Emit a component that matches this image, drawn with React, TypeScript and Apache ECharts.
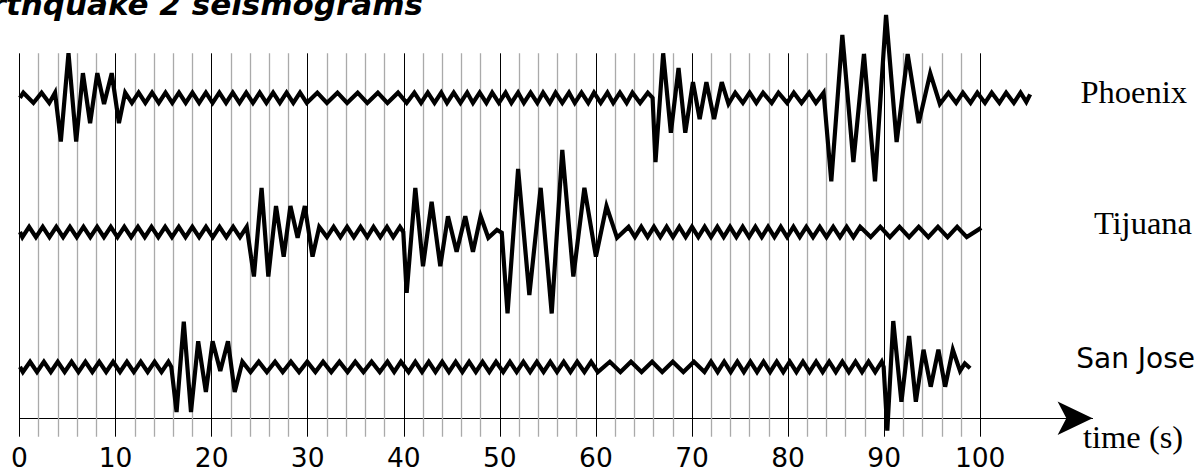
import React, { useEffect, useRef } from "react";
import * as echarts from "echarts";

const TITLE = "Earthquake 2 seismograms";
const AXIS_NAME = "time (s)";
const STATIONS = ["Phoenix", "Tijuana", "San Jose"];
const BASELINES = [46.8, 27.2, 7.5];
const TICK_LABELS = [0, 10, 20, 30, 40, 50, 60, 70, 80, 90, 100];
const GRID_TIMES = [
  0, 2, 4, 6, 8, 10, 12, 14, 16, 18, 20, 22, 24, 26, 28, 30, 32, 34, 36, 38, 40, 42, 44, 46, 48, 50,
  52, 54, 56, 58, 60, 62, 64, 66, 68, 70, 72, 74, 76, 78, 80, 82, 84, 86, 88, 90, 92, 94, 96, 98, 100,
];

const PHOENIX: [number, number][] = [
  [0.05, 0], [0.4, 0.75], [1.45, -0.75], [2.3, 0.75], [3.1, -0.75], [3.7, 0.75],
  [4.3, -6.4], [5.1, 6.5], [5.9, -6.4], [6.6, 3.6], [7.35, -3.7], [8.1, 3.6], [8.8, -0.9], [9.6, 3.6], [10.35, -3.7], [11.0, 0.75],
  [11.7, -0.75], [12.4, 0.75], [13.1, -0.75], [13.8, 0.75], [14.5, -0.75], [15.2, 0.75], [15.9, -0.75], [16.6, 0.75],
  [17.3, -0.75], [18.0, 0.75], [18.7, -0.75], [19.4, 0.75], [20.1, -0.75], [20.8, 0.75], [21.5, -0.75], [22.2, 0.75],
  [22.9, -0.75], [23.6, 0.75], [24.3, -0.75], [25.0, 0.75], [25.7, -0.75], [26.4, 0.75], [27.1, -0.75], [27.8, 0.75],
  [28.5, -0.75], [29.2, 0.75], [29.9, -0.75],
  [31.0, 0.75], [32.0, -0.75], [33.1, 0.75], [34.1, -0.75], [35.2, 0.75], [36.2, -0.75], [37.3, 0.75], [38.3, -0.75], [39.4, 0.75], [40.3, -0.75],
  [41.1, 0.75], [41.8, -0.75], [42.5, 0.75], [43.2, -0.75], [43.9, 0.75], [44.5, -0.75], [45.2, 0.75], [45.9, -0.75],
  [46.6, 0.75], [47.2, -0.75], [47.9, 0.75], [48.6, -0.75], [49.2, 0.75], [49.9, -0.75], [50.6, 0.75], [51.2, -0.75],
  [51.9, 0.75], [52.5, -0.75], [53.2, 0.75], [53.9, -0.75], [54.5, 0.75], [55.2, -0.75], [55.8, 0.75], [56.5, -0.75],
  [57.2, 0.75], [57.8, -0.75], [58.5, 0.75], [59.2, -0.75], [59.8, 0.75], [60.5, -0.75], [61.2, 0.75], [61.8, -0.75],
  [62.5, 0.75], [63.2, -0.75], [63.8, 0.75], [64.6, -0.75], [65.4, 0.75],
  [65.9, 0], [66.2, -9.4], [67.0, 6.5], [67.8, -5.1], [68.6, 4.35], [69.3, -5.1], [70.1, 2.3], [70.8, -3.1], [71.5, 2.3],
  [72.3, -3.1], [73.1, 2.3], [73.8, -0.9],
  [74.5, 0.75], [75.3, -0.75], [76.0, 0.75], [76.7, -0.75], [77.4, 0.75], [78.3, -0.75], [79.0, 0.75], [79.9, -0.75],
  [80.6, 0.75], [81.4, -0.75], [82.2, 0.75], [82.9, -0.75], [83.7, 0.75],
  [84.5, -12.2], [85.65, 9.2], [86.8, -9.4], [87.9, 6.4], [89.05, -12.2], [90.2, 12.1], [91.3, -6.45], [92.45, 6.4],
  [93.6, -3.7], [94.8, 3.6], [95.8, -0.9],
  [96.7, 0.75], [97.5, -0.75], [98.2, 0.75], [99.0, -0.75], [99.7, 0.75], [100.5, -0.75], [101.2, 0.75], [102.0, -0.75],
  [102.7, 0.75], [103.5, -0.75], [104.2, 0.75], [104.8, -0.6], [105.2, 0.5],
];

const TIJUANA: [number, number][] = [
  [0.05, 0], [0.3, -0.75], [1.0, 0.75], [1.71, -0.75], [2.42, 0.75], [3.12, -0.75], [3.83, 0.75], [4.54, -0.75],
  [5.25, 0.75], [5.96, -0.75], [6.66, 0.75], [7.37, -0.75], [8.08, 0.75], [8.79, -0.75], [9.5, 0.75], [10.2, -0.75],
  [10.91, 0.75], [11.62, -0.75], [12.33, 0.75], [13.04, -0.75], [13.74, 0.75], [14.45, -0.75], [15.16, 0.75], [15.87, -0.75],
  [16.58, 0.75], [17.28, -0.75], [17.99, 0.75], [18.7, -0.75], [19.41, 0.75], [20.12, -0.75], [20.82, 0.75], [21.53, -0.75],
  [22.24, 0.75], [22.95, -0.75], [23.65, 0.75],
  [24.4, -6.5], [25.2, 6.45], [25.9, -6.5], [26.7, 3.8], [27.5, -3.6], [28.2, 3.8], [28.95, -0.85], [29.7, 3.8], [30.5, -3.6], [31.2, 0.75],
  [32.0, -0.75], [32.7, 0.75], [33.4, -0.75], [34.1, 0.75], [34.8, -0.75], [35.5, 0.75], [36.2, -0.75], [36.85, 0.75],
  [37.55, -0.75], [38.25, 0.75], [38.9, -0.75], [39.6, 0.75],
  [39.95, 0], [40.3, -8.9], [41.2, 6.45], [42.0, -5], [42.9, 4.4], [43.8, -5], [44.6, 2.3], [45.5, -2.9], [46.4, 2.3],
  [47.2, -2.9], [48.0, 2.3], [48.8, -0.85], [49.7, 0.3], [50.2, -0.1],
  [50.8, -11.9], [51.9, 9.2], [53.07, -9.2], [54.25, 6.45], [55.4, -11.9], [56.5, 12.0], [57.65, -6.5], [58.8, 6.45],
  [60.0, -3.6], [61.1, 3.8], [62.2, -0.85],
  [63.4, 0.75], [64.06, -0.75], [64.72, 0.75], [65.38, -0.75], [66.04, 0.75], [66.7, -0.75], [67.36, 0.75], [68.02, -0.75],
  [68.68, 0.75], [69.34, -0.75], [70.0, 0.75], [70.66, -0.75], [71.32, 0.75], [71.98, -0.75], [72.64, 0.75], [73.3, -0.75],
  [73.96, 0.75], [74.62, -0.75], [75.28, 0.75], [75.94, -0.75], [76.6, 0.75], [77.26, -0.75], [77.92, 0.75], [78.58, -0.75],
  [79.24, 0.75], [79.9, -0.75], [80.56, 0.75], [81.22, -0.75], [81.9, 0.75], [82.6, -0.75], [83.3, 0.75], [84.0, -0.75],
  [84.7, 0.75], [85.4, -0.75], [86.1, 0.75], [86.8, -0.75], [87.5, 0.75],
  [88.6, -0.75], [89.6, 0.75], [90.6, -0.75], [91.6, 0.75], [92.6, -0.75], [93.6, 0.75], [94.6, -0.75], [95.6, 0.75],
  [96.6, -0.75], [97.6, 0.75], [98.6, -0.75], [100.1, 0.6],
];

const SAN_JOSE: [number, number][] = [
  [0.05, 0], [0.35, -0.75], [1.1, 0.75], [1.82, -0.75], [2.54, 0.75], [3.26, -0.75], [3.98, 0.75], [4.7, -0.75],
  [5.42, 0.75], [6.14, -0.75], [6.86, 0.75], [7.58, -0.75], [8.3, 0.75], [9.02, -0.75], [9.74, 0.75], [10.46, -0.75],
  [11.18, 0.75], [11.9, -0.75], [12.62, 0.75], [13.34, -0.75], [14.06, 0.75], [14.78, -0.75], [15.5, 0.75],
  [15.8, 0], [16.35, -6.6], [17.1, 6.6], [17.85, -6.6], [18.6, 3.75], [19.4, -3.65], [20.1, 3.75], [20.9, -0.6],
  [21.7, 3.75], [22.4, -3.65], [23.2, 0.75],
  [24.05, -0.75], [24.9, 0.75], [25.75, -0.75], [26.6, 0.75], [27.4, -0.75], [28.25, 0.75], [29.1, -0.75], [29.95, 0.75],
  [30.8, -0.75], [31.6, 0.75], [32.45, -0.75], [33.3, 0.75], [34.15, -0.75], [34.95, 0.75], [35.8, -0.75], [36.65, 0.75],
  [37.5, -0.75], [38.3, 0.75], [39.0, -0.75], [39.7, 0.75], [40.5, -0.75],
  [41.2, 0.75], [41.9, -0.75], [42.6, 0.75], [43.3, -0.75], [44.0, 0.75], [44.7, -0.75], [45.4, 0.75], [46.1, -0.75],
  [46.8, 0.75], [47.5, -0.75], [48.2, 0.75], [48.9, -0.75], [49.6, 0.75], [50.35, -0.75], [51.05, 0.75], [51.75, -0.75],
  [52.45, 0.75], [53.15, -0.75], [53.85, 0.75], [54.55, -0.75], [55.25, 0.75], [55.95, -0.75], [56.65, 0.75], [57.35, -0.75],
  [58.05, 0.75], [58.8, -0.75], [59.5, 0.75], [60.2, -0.75],
  [61.45, 0.75], [62.55, -0.75], [63.65, 0.75], [64.75, -0.75], [65.85, 0.75], [66.9, -0.75], [68.0, 0.75], [69.1, -0.75],
  [70.2, 0.75], [71.3, -0.75],
  [71.98, 0.75], [72.67, -0.75], [73.35, 0.75], [74.03, -0.75], [74.72, 0.75], [75.4, -0.75], [76.08, 0.75], [76.77, -0.75],
  [77.45, 0.75], [78.13, -0.75], [78.82, 0.75], [79.5, -0.75], [80.18, 0.75], [80.87, -0.75], [81.55, 0.75], [82.23, -0.75],
  [82.92, 0.75], [83.6, -0.75], [84.28, 0.75], [84.97, -0.75], [85.65, 0.75], [86.33, -0.75], [87.02, 0.75], [87.7, -0.75],
  [88.38, 0.75], [89.07, -0.75], [89.75, 0.75],
  [89.95, 0], [90.33, -9.3], [90.95, 6.7], [91.8, -5.1], [92.6, 4.5], [93.3, -5.1], [94.1, 2.5], [94.85, -2.9],
  [95.65, 2.5], [96.35, -2.9], [97.15, 2.5], [97.9, -0.6], [98.4, 0.5], [98.95, -0.2],
];

const TRACES = [PHOENIX, TIJUANA, SAN_JOSE];

export default function App() {
  const ref = useRef<HTMLDivElement>(null);

  useEffect(() => {
    if (!ref.current) return;
    const chart = echarts.init(ref.current, null, { renderer: "svg" });

    const traceSeries = TRACES.map((trace, i) => ({
      type: "line",
      name: STATIONS[i],
      data: trace.map(([t, v]) => [t, BASELINES[i] + v]),
      showSymbol: false,
      clip: false,
      z: 10,
      lineStyle: { color: "#000", width: 4.2, join: "miter", miterLimit: 4, cap: "butt" },
      silent: true,
    }));

    const gridSeries = {
      type: "line",
      data: [],
      silent: true,
      z: 1,
      markLine: {
        silent: true,
        z: 1,
        symbol: ["none", "none"],
        label: { show: false },
        data: GRID_TIMES.map((t) => ({
          xAxis: t,
          lineStyle: { color: t % 10 === 0 ? "#000" : "#aaaaaa", width: t % 10 === 0 ? 1 : 1.3, type: "solid" },
        })),
      },
    };

    const labelY = [92, 223, 358.6];
    const labelX = [1187, 1192, 1195];
    const labelFonts = ["Liberation Serif", "Liberation Serif", "DejaVu Sans"];
    const labelSizes = [32.5, 32.5, 28];

    chart.setOption({
      animation: false,
      backgroundColor: "#fff",
      grid: {
        left: 19.5,
        right: 109.4,
        top: 53.3,
        bottom: 35.3,
        containLabel: false,
        outerBoundsMode: "none",
      },
      xAxis: {
        type: "value",
        min: 0,
        max: 111.7,
        axisLine: {
          show: true,
          onZero: true,
          symbol: ["none", "arrow"],
          symbolSize: [25, 35],
          lineStyle: { color: "#000", width: 1 },
        },
        axisTick: { show: false },
        splitLine: { show: false },
        axisLabel: {
          customValues: TICK_LABELS,
          color: "#000",
          fontFamily: "DejaVu Sans",
          fontSize: 26.5,
          lineHeight: 22,
          margin: 9.5,
        },
      },
      yAxis: { type: "value", min: -2.7, max: 53.3, show: false },
      series: [gridSeries, ...traceSeries],
      graphic: [
        {
          type: "text",
          x: 423,
          y: 4.3,
          style: {
            text: TITLE,
            font: "italic bold 31px 'DejaVu Sans'",
            fill: "#000",
            align: "right",
            verticalAlign: "middle",
          },
        },
        ...STATIONS.map((s, i) => ({
          type: "text",
          x: labelX[i],
          y: labelY[i],
          style: {
            text: s,
            font: `${labelSizes[i]}px '${labelFonts[i]}'`,
            fill: "#000",
            align: "right",
            verticalAlign: "middle",
          },
        })),
        {
          type: "text",
          x: 1083,
          y: 437,
          style: {
            text: AXIS_NAME,
            font: "32.5px 'Liberation Serif'",
            fill: "#000",
            align: "left",
            verticalAlign: "middle",
          },
        },
      ],
    });

    return () => chart.dispose();
  }, []);

  return (
    <div
      ref={ref}
      style={{ position: "absolute", left: 0, top: 0, width: 1202, height: 472, background: "#fff" }}
    />
  );
}
